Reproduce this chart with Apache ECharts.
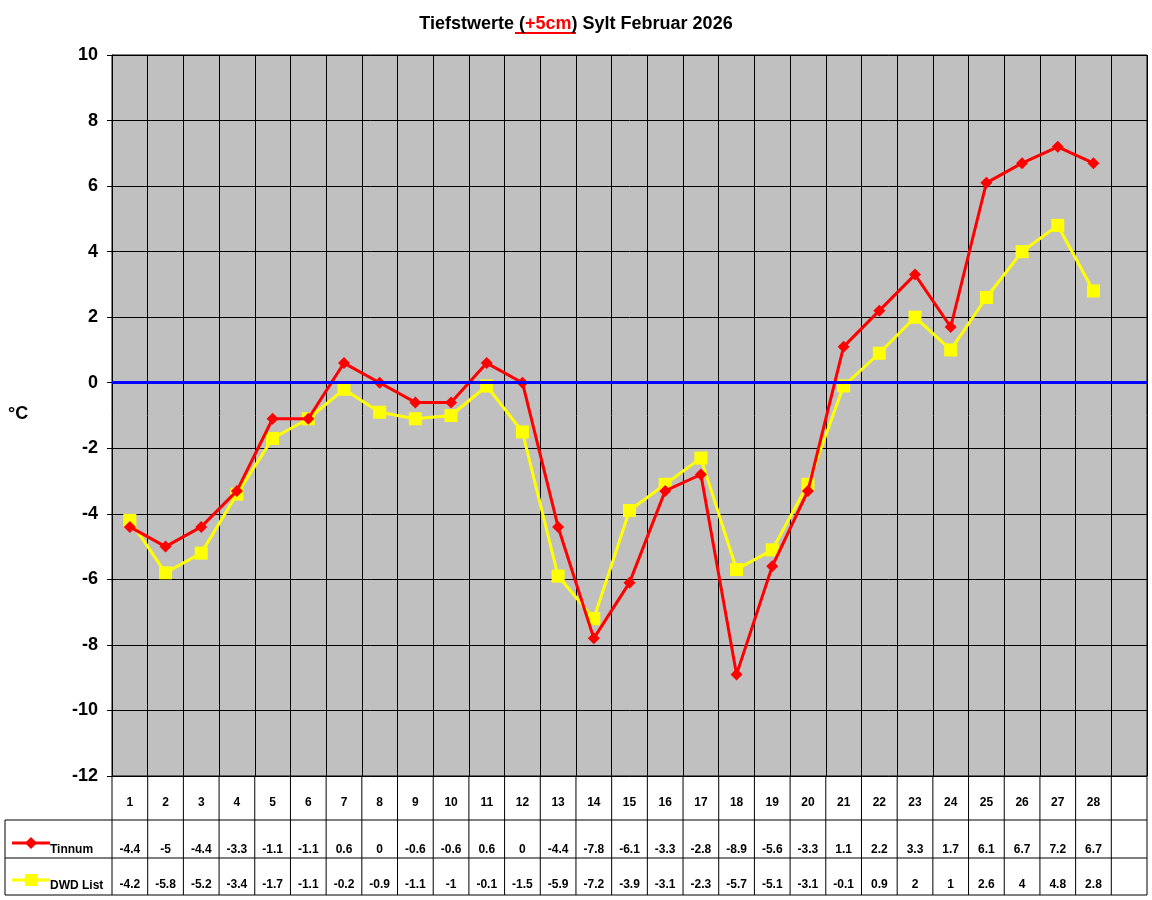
<!DOCTYPE html>
<html><head><meta charset="utf-8">
<script src="https://cdn.jsdelivr.net/npm/echarts@6/dist/echarts.min.js"></script>
<style>html,body{margin:0;padding:0;background:#fff}#c{width:1152px;height:900px}</style>
</head><body><div id="c"></div>
<script>
const days = ['1','2','3','4','5','6','7','8','9','10','11','12','13','14','15','16','17','18','19','20','21','22','23','24','25','26','27','28',''];
const tinnum = [-4.4,-5,-4.4,-3.3,-1.1,-1.1,0.6,0,-0.6,-0.6,0.6,0,-4.4,-7.8,-6.1,-3.3,-2.8,-8.9,-5.6,-3.3,1.1,2.2,3.3,1.7,6.1,6.7,7.2,6.7];
const dwd = [-4.2,-5.8,-5.2,-3.4,-1.7,-1.1,-0.2,-0.9,-1.1,-1,-0.1,-1.5,-5.9,-7.2,-3.9,-3.1,-2.3,-5.7,-5.1,-3.1,-0.1,0.9,2,1,2.6,4,4.8,2.8];
const names = ['Tinnum','DWD List'];

const L=112, T=55, W=1035, H=721, N=days.length, cw=W/N;
const g=[];
const ln=(x1,y1,x2,y2)=>g.push({type:'line',shape:{x1,y1,x2,y2},style:{stroke:'#000',lineWidth:1}});
for(let i=0;i<=N;i++){ln(L+i*cw,776,L+i*cw,895);}
ln(5,820,L+W,820);ln(5,858,L+W,858);ln(5,895,L+W,895);ln(5,820,5,895);
// legend keys
g.push({type:'line',shape:{x1:12,y1:843,x2:50,y2:843},style:{stroke:'#ff0000',lineWidth:3}});
g.push({type:'polygon',shape:{points:[[31,837],[37,843],[31,849],[25,843]]},style:{fill:'#ff0000'}});
g.push({type:'text',x:50,y:844,style:{text:names[0],font:'bold 12px Arial',fill:'#000'}});
g.push({type:'line',shape:{x1:12,y1:880,x2:50,y2:880},style:{stroke:'#ffff00',lineWidth:3}});
g.push({type:'rect',shape:{x:25,y:874,width:12,height:12},style:{fill:'#ffff00'}});
g.push({type:'text',x:50,y:880,style:{text:names[1],font:'bold 12px Arial',fill:'#000'}});
g.push({type:'text',x:8,y:405,style:{text:'°C',font:'bold 18px Arial',fill:'#000'}});
g.push({type:'line',shape:{x1:515,y1:33,x2:576,y2:33},style:{stroke:'#ff0000',lineWidth:2}});

const fmt=v=>v===undefined?'':String(v);
const chart=echarts.init(document.getElementById('c'));
chart.setOption({
  animation:false,
  title:{text:'Tiefstwerte ({r|+5cm}) Sylt Februar 2026',left:'center',top:10,
    textStyle:{fontFamily:'Arial',fontWeight:'bold',fontSize:18,color:'#000',rich:{r:{color:'#ff0000',fontFamily:'Arial',fontWeight:'bold',fontSize:18}}}},
  grid:{left:L,top:T,width:W,height:H,show:true,backgroundColor:'#c0c0c0',borderColor:'#000',borderWidth:1},
  xAxis:[
    {type:'category',data:days,boundaryGap:true,axisLine:{lineStyle:{color:'#000'}},axisTick:{show:false},
     splitLine:{show:true,lineStyle:{color:'#000',width:1}},
     axisLabel:{interval:0,margin:21,fontFamily:'Arial',fontWeight:'bold',fontSize:12,color:'#000'}},
    {type:'category',data:days.map((d,i)=>fmt(tinnum[i])),position:'bottom',offset:60,axisLine:{show:false},axisTick:{show:false},
     axisLabel:{interval:0,margin:8,fontFamily:'Arial',fontWeight:'bold',fontSize:12,color:'#000'}},
    {type:'category',data:days.map((d,i)=>fmt(dwd[i])),position:'bottom',offset:95,axisLine:{show:false},axisTick:{show:false},
     axisLabel:{interval:0,margin:8,fontFamily:'Arial',fontWeight:'bold',fontSize:12,color:'#000'}}
  ],
  yAxis:{type:'value',min:-12,max:10,interval:2,axisLine:{show:true,lineStyle:{color:'#000'}},axisTick:{show:true,inside:false,lineStyle:{color:'#000'}},
    splitLine:{show:true,lineStyle:{color:'#000',width:1}},
    axisLabel:{fontFamily:'Arial',fontWeight:'bold',fontSize:18,color:'#000',margin:14}},
  series:[
    {name:names[0],type:'line',data:tinnum,symbol:'diamond',symbolSize:12,lineStyle:{color:'#ff0000',width:3},itemStyle:{color:'#ff0000'},z:4,
     markLine:{silent:true,symbol:'none',label:{show:false},lineStyle:{color:'#0000ff',width:3,type:'solid'},data:[{yAxis:0}]}},
    {name:names[1],type:'line',data:dwd,symbol:'rect',symbolSize:13,lineStyle:{color:'#ffff00',width:3},itemStyle:{color:'#ffff00'},z:3}
  ],
  graphic:g
});
</script></body></html>
